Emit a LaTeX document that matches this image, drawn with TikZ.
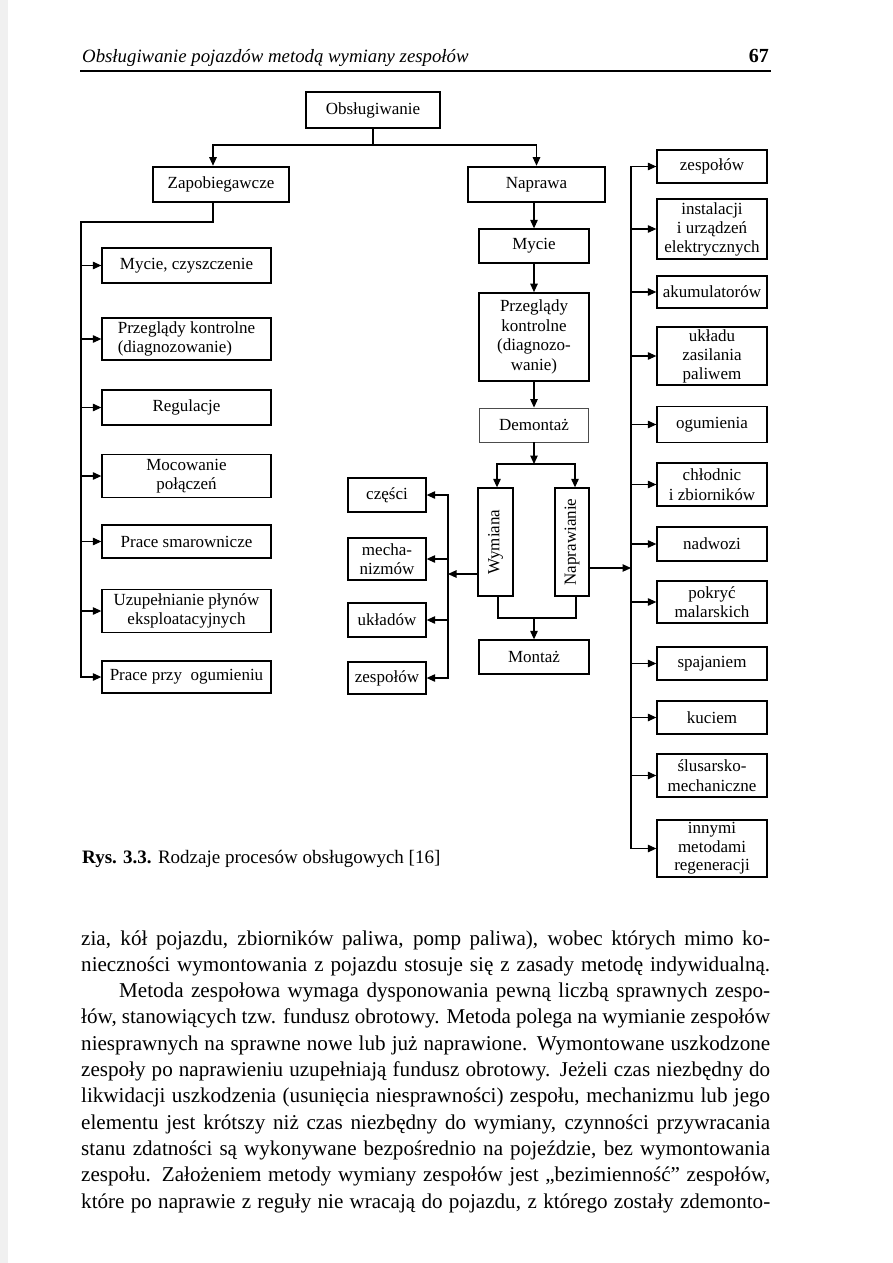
\documentclass[tikz,border=0pt]{standalone}
\usepackage{fontspec}
\setmainfont{Liberation Serif}
\usepackage{graphicx}
\usetikzlibrary{arrows.meta}
\newcommand{\dfont}{\fontsize{17}{19.5}\selectfont}
\newcommand{\bodyfont}{\fontsize{21.1}{26.3}\selectfont}
\tikzset{
  bx/.style={draw, line width=1.3pt, inner sep=0pt, align=center, font=\dfont},
  thickbx/.style={bx, line width=2.6pt},
  arr/.style={line width=1.1pt, -{Triangle[length=8.5pt,width=7.5pt]}},
  ln/.style={line width=1.1pt},
  bodyline/.style={anchor=base west, inner sep=0pt, font=\bodyfont},
}
\begin{document}
\begin{tikzpicture}[x=1pt,y=-1pt]
\useasboundingbox (0,0) rectangle (893,1263);
\fill[white] (0,0) rectangle (893,1263);
\fill[gray!12] (0,0) rectangle (8,1263);

% header
\node[anchor=base west, inner sep=0pt, font=\fontsize{18.8}{22}\selectfont\itshape] (hd) at (82,63) {Obsługiwanie pojazdów metodą wymiany zespołów};
\node[anchor=base east, inner sep=0pt, font=\fontsize{20}{22}\selectfont\bfseries] (pg) at (769,63) {67};
\draw[line width=1.2pt] (80,71) -- (771,71);

% top level
\node[thickbx, minimum width=134, minimum height=36] (top) at (373,110) {Obsługiwanie};
\node[thickbx, minimum width=136, minimum height=35] (zap) at (221,184.5) {Zapobiegawcze};
\node[thickbx, minimum width=137, minimum height=35] (nap) at (536.5,184.5) {Naprawa};
\coordinate (tj) at (373,145);
\draw[ln] (top.south) -- (tj);
\draw[arr] (tj) -| ([xshift=-8pt]zap.north);
\draw[arr] (tj) -| (nap.north);

% left column
\node[bx, minimum width=169, minimum height=35] (L1) at (186.5,265.5) {Mycie, czyszczenie};
\node[bx, minimum width=169, minimum height=42, align=left] (L2) at (186.5,339) {Przeglądy kontrolne\\(diagnozowanie)};
\node[bx, minimum width=169, minimum height=35] (L3) at (186.5,407.5) {Regulacje};
\node[bx, minimum width=169, minimum height=43] (L4) at (186.5,476) {Mocowanie\\połączeń};
\node[bx, minimum width=169, minimum height=33] (L5) at (186.5,541.5) {Prace smarownicze};
\node[bx, minimum width=169, minimum height=43] (L6) at (186.5,611) {Uzupełnianie płynów\\eksploatacyjnych};
\node[bx, minimum width=169, minimum height=32] (L7) at (186.5,677) {Prace przy\ \ ogumieniu};
\coordinate (zc) at (81,222);
\draw[arr] ([xshift=-8pt]zap.south) |- (zc) |- (L7.west);
\foreach \n in {L1,L2,L3,L4,L5,L6}{
  \draw[arr] ([xshift=-21pt]\n.west) -- (\n.west);
}

% repair column
\node[bx, minimum width=110, minimum height=34] (N1) at (534,246) {Mycie};
\node[bx, line width=1.7pt, minimum width=110, minimum height=88] (N2) at (534,337) {Przeglądy\\kontrolne\\(diagnozo-\\wanie)};
\node[bx, line width=0.9pt, draw=black!70, minimum width=109, minimum height=34] (N3) at (534,425) {Demontaż};
\draw[arr] (nap.south -| N1.north) -- (N1.north);
\draw[arr] (N1.south) -- (N2.north);
\draw[arr] (N2.south) -- (N3.north);

\node[bx, minimum width=35, minimum height=108] (W) at (495.5,542) {\rotatebox{90}{Wymiana}};
\node[bx, minimum width=34, minimum height=108] (R) at (572,542) {\rotatebox{90}{Naprawianie}};
\coordinate (j1) at (534,464);
\draw[arr] (N3.south) -- (j1);
\draw[arr] (j1) -| ([xshift=1.5pt]W.north);
\draw[arr] (j1) -| ([xshift=3pt]R.north);

\node[bx, minimum width=110, minimum height=34] (M) at (534,657) {Montaż};
\coordinate (j2) at (534,618);
\draw[ln] ([xshift=2.5pt]W.south) -- ([xshift=2.5pt]W.south |- j2) -- ([xshift=4pt]R.south |- j2) -- ([xshift=4pt]R.south);
\draw[arr] (j2) -- (M.north);

% parts exchanged
\node[bx, minimum width=78, minimum height=34] (P1) at (387,495) {części};
\node[bx, minimum width=78, minimum height=42] (P2) at (387,559) {mecha-\\nizmów};
\node[bx, minimum width=78, minimum height=34] (P3) at (387,620) {układów};
\node[bx, minimum width=78, minimum height=32] (P4) at (387,678) {zespołów};
\coordinate (vt) at (448,574);
\draw[arr] ([yshift=-32pt]W.west) -- (vt);
\draw[arr] (vt) |- (P1.east);
\draw[arr] (vt) |- (P4.east);
\draw[arr] ([xshift=22pt]P2.east) -- (P2.east);
\draw[arr] ([xshift=22pt]P3.east) -- (P3.east);

% repair kinds
\node[bx, minimum width=110, minimum height=33] (Q1) at (712,166.5) {zespołów};
\node[bx, minimum width=110, minimum height=60, font=\fontsize{17}{19}\selectfont] (Q2) at (712,229) {instalacji\\i urządzeń\\elektrycznych};
\node[bx, minimum width=110, minimum height=32] (Q3) at (712,292) {akumulatorów};
\node[bx, minimum width=110, minimum height=58, font=\fontsize{17}{19}\selectfont] (Q4) at (712,356) {układu\\zasilania\\paliwem};
\node[bx, minimum width=110, minimum height=36] (Q5) at (712,424.5) {ogumienia};
\node[bx, minimum width=110, minimum height=43] (Q6) at (712,484.5) {chłodnic\\i zbiorników};
\node[bx, minimum width=110, minimum height=34] (Q7) at (712,544) {nadwozi};
\node[bx, minimum width=110, minimum height=42] (Q8) at (712,602) {pokryć\\malarskich};
\node[bx, minimum width=110, minimum height=33] (Q9) at (712,663.5) {spajaniem};
\node[bx, minimum width=110, minimum height=33] (Q10) at (712,717.5) {kuciem};
\node[bx, minimum width=110, minimum height=43] (Q11) at (712,775.5) {ślusarsko-\\mechaniczne};
\node[bx, minimum width=110, minimum height=57, font=\fontsize{17}{18.5}\selectfont] (Q12) at (712,848.5) {innymi\\metodami\\regeneracji};
\coordinate (rt) at (631,568);
\draw[arr] ([yshift=-26pt]R.east) -- (rt);
\draw[arr] (rt) |- (Q1.west);
\draw[arr] (rt) |- (Q12.west);
\foreach \n in {Q2,Q3,Q4,Q5,Q6,Q7,Q8,Q9,Q10,Q11}{
  \draw[arr] ([xshift=-26pt]\n.west) -- (\n.west);
}

% caption
\node[anchor=base west, inner sep=0pt, font=\fontsize{19}{22}\selectfont] (cap) at (82,863) {\textbf{Rys. 3.3.} Rodzaje procesów obsługowych [16]};

% body text
\node[bodyline] (b1) at (81,945) {\makebox[689pt][s]{zia, kół pojazdu, zbiorników paliwa, pomp paliwa), wobec których mimo ko-}};
\node[bodyline] (b2) at (81,971.3) {\makebox[689pt][s]{nieczności wymontowania z pojazdu stosuje się z zasady metodę indywidualną.}};
\node[bodyline] (b3) at (119,997.6) {\makebox[651pt][s]{Metoda zespołowa wymaga dysponowania pewną liczbą sprawnych zespo-}};
\node[bodyline] (b4) at (81,1023.9) {\makebox[689pt][s]{łów, stanowiących tzw. fundusz obrotowy. Metoda polega na wymianie zespołów}};
\node[bodyline] (b5) at (81,1050.2) {\makebox[689pt][s]{niesprawnych na sprawne nowe lub już naprawione. Wymontowane uszkodzone}};
\node[bodyline] (b6) at (81,1076.5) {\makebox[689pt][s]{zespoły po naprawieniu uzupełniają fundusz obrotowy. Jeżeli czas niezbędny do}};
\node[bodyline] (b7) at (81,1102.8) {\makebox[689pt][s]{likwidacji uszkodzenia (usunięcia niesprawności) zespołu, mechanizmu lub jego}};
\node[bodyline] (b8) at (81,1129.1) {\makebox[689pt][s]{elementu jest krótszy niż czas niezbędny do wymiany, czynności przywracania}};
\node[bodyline] (b9) at (81,1155.4) {\makebox[689pt][s]{stanu zdatności są wykonywane bezpośrednio na pojeździe, bez wymontowania}};
\node[bodyline] (b10) at (81,1181.7) {\makebox[689pt][s]{zespołu. Założeniem metody wymiany zespołów jest „bezimienność” zespołów,}};
\node[bodyline] (b11) at (81,1208) {\makebox[689pt][s]{które po naprawie z reguły nie wracają do pojazdu, z którego zostały zdemonto-}};
\end{tikzpicture}
\end{document}
